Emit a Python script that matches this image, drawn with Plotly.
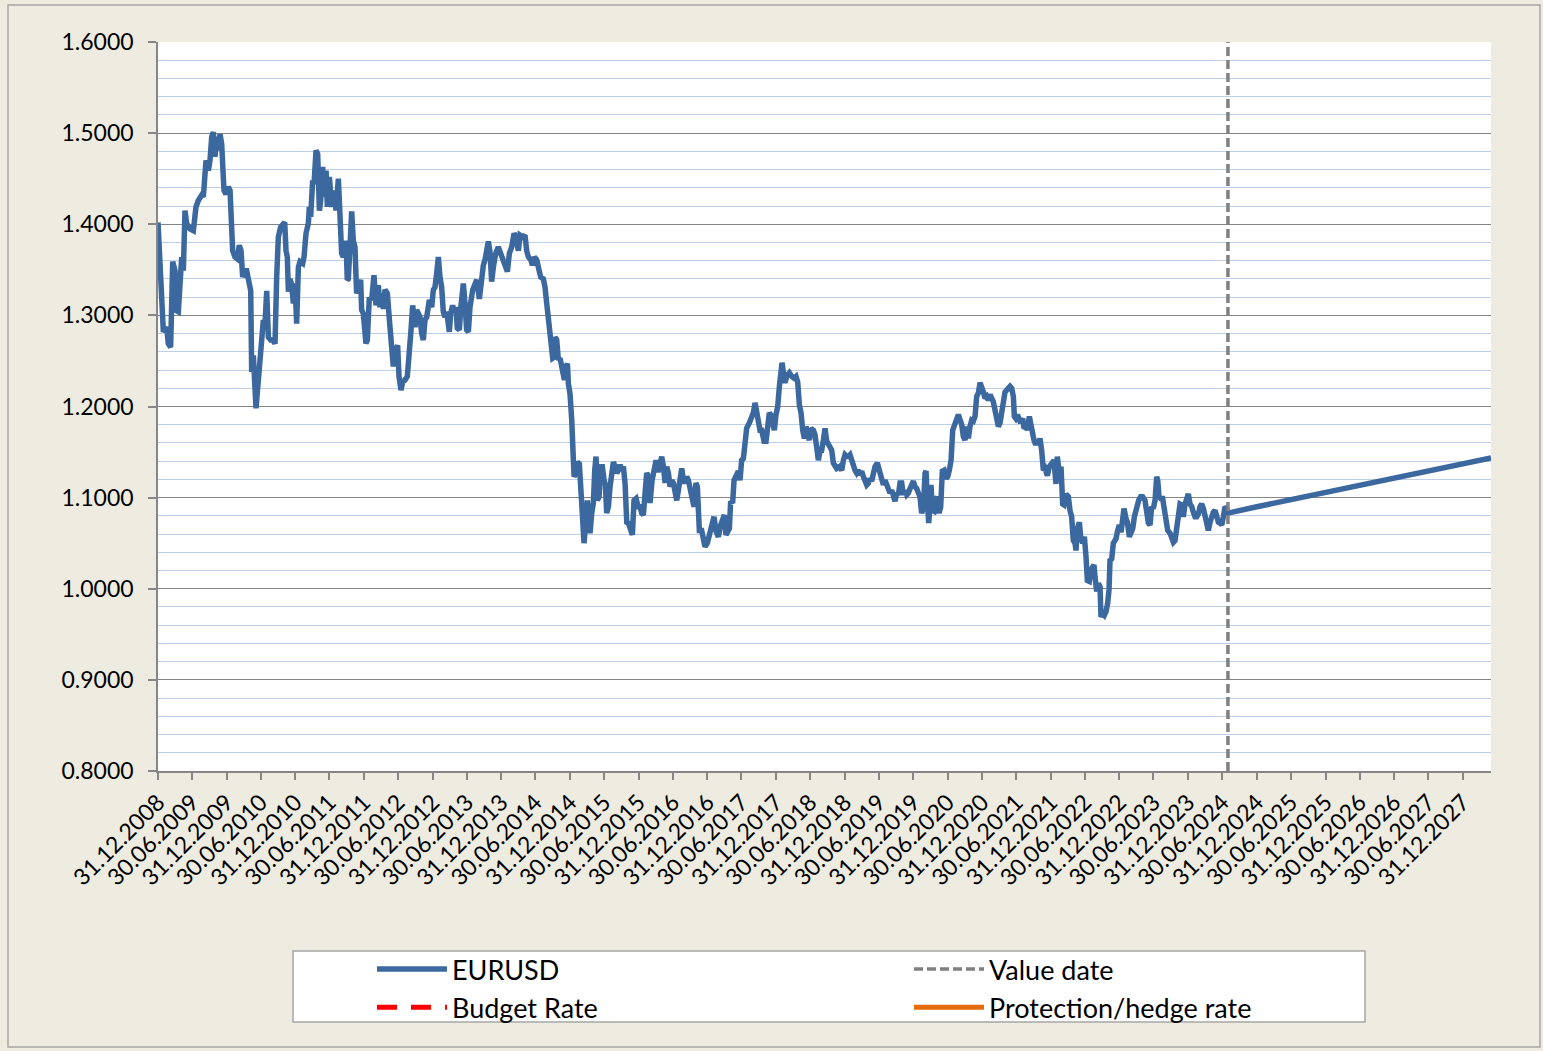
import pandas as pd
import plotly.graph_objects as go

# Time is in decimal years, where 2009.000 corresponds to 31.12.2008 (left end of the axis)
hist_t = [
    2009.000, 2009.053, 2009.078, 2009.126, 2009.150, 2009.184, 2009.214, 2009.248, 2009.272, 2009.296,
    2009.320, 2009.345, 2009.369, 2009.393, 2009.417, 2009.466, 2009.515, 2009.553, 2009.587, 2009.636,
    2009.660, 2009.699, 2009.733, 2009.757, 2009.782, 2009.806, 2009.830, 2009.854, 2009.879, 2009.903,
    2009.927, 2009.961, 2009.990, 2010.024, 2010.049, 2010.087, 2010.121, 2010.155, 2010.184, 2010.209,
    2010.233, 2010.267, 2010.291, 2010.316, 2010.350, 2010.364, 2010.388, 2010.427, 2010.447, 2010.476,
    2010.510, 2010.534, 2010.558, 2010.583, 2010.607, 2010.641, 2010.670, 2010.704, 2010.728, 2010.752,
    2010.786, 2010.816, 2010.845, 2010.864, 2010.883, 2010.898, 2010.922, 2010.947, 2010.971, 2010.995,
    2011.019, 2011.044, 2011.068, 2011.107, 2011.126, 2011.155, 2011.189, 2011.204, 2011.223, 2011.252,
    2011.272, 2011.301, 2011.325, 2011.350, 2011.369, 2011.398, 2011.417, 2011.447, 2011.466, 2011.495,
    2011.529, 2011.563, 2011.592, 2011.626,
    2011.674, 2011.698, 2011.737, 2011.756, 2011.771, 2011.795, 2011.820, 2011.844, 2011.868, 2011.892,
    2011.931, 2011.951, 2011.965, 2011.989, 2012.028, 2012.048, 2012.077, 2012.111, 2012.145, 2012.174,
    2012.208, 2012.232, 2012.256, 2012.281, 2012.305, 2012.339, 2012.378, 2012.402, 2012.426, 2012.460,
    2012.489, 2012.509, 2012.538, 2012.562, 2012.596, 2012.630, 2012.659, 2012.684, 2012.708, 2012.742,
    2012.766, 2012.790, 2012.815, 2012.839, 2012.863, 2012.887, 2012.912, 2012.951, 2012.985, 2013.009,
    2013.033, 2013.057, 2013.082, 2013.106, 2013.130, 2013.154, 2013.179, 2013.203, 2013.227, 2013.242,
    2013.261, 2013.290, 2013.310, 2013.339, 2013.358, 2013.388, 2013.407, 2013.446, 2013.470, 2013.494,
    2013.519, 2013.543, 2013.582, 2013.616, 2013.640, 2013.679, 2013.713, 2013.737, 2013.761, 2013.786,
    2013.810, 2013.834, 2013.858, 2013.883, 2013.917, 2013.955,
    2014.019, 2014.053, 2014.087, 2014.116, 2014.150, 2014.184, 2014.213, 2014.247, 2014.271, 2014.310,
    2014.344, 2014.368, 2014.393, 2014.427, 2014.451, 2014.480, 2014.514, 2014.553, 2014.572, 2014.611,
    2014.635, 2014.660, 2014.684, 2014.708, 2014.732, 2014.747, 2014.766, 2014.781, 2014.805, 2014.830,
    2014.854, 2014.878, 2014.902, 2014.917, 2014.941, 2014.961, 2014.975, 2014.999, 2015.024, 2015.048,
    2015.058, 2015.087, 2015.106, 2015.135, 2015.155, 2015.184, 2015.203, 2015.232, 2015.252, 2015.271,
    2015.291, 2015.315, 2015.339, 2015.359, 2015.378, 2015.397, 2015.422, 2015.446, 2015.470, 2015.495,
    2015.514, 2015.533, 2015.558, 2015.582, 2015.606, 2015.630, 2015.655, 2015.679, 2015.703, 2015.728,
    2015.752, 2015.776, 2015.800, 2015.825, 2015.849, 2015.883, 2015.907, 2015.931, 2015.961, 2015.990,
    2016.019, 2016.043, 2016.067, 2016.092, 2016.116, 2016.145, 2016.164, 2016.194, 2016.223, 2016.252,
    2016.281, 2016.310, 2016.334, 2016.359, 2016.383, 2016.407, 2016.431, 2016.456, 2016.480, 2016.504,
    2016.529, 2016.553, 2016.577, 2016.601, 2016.626, 2016.650, 2016.674, 2016.698, 2016.723,
    2016.804, 2016.833, 2016.853, 2016.882, 2016.916, 2016.940, 2016.964, 2016.998, 2017.028, 2017.062,
    2017.096, 2017.125, 2017.159, 2017.193, 2017.222, 2017.246, 2017.270, 2017.290, 2017.319, 2017.338,
    2017.367, 2017.387, 2017.416, 2017.450, 2017.474, 2017.498, 2017.523, 2017.547, 2017.571, 2017.610,
    2017.644, 2017.668, 2017.693, 2017.717, 2017.741, 2017.765, 2017.790, 2017.824, 2017.853, 2017.872,
    2017.901, 2017.921, 2017.950, 2017.974, 2017.998, 2018.023, 2018.047, 2018.066, 2018.086, 2018.105,
    2018.129, 2018.154, 2018.193, 2018.227, 2018.261, 2018.290, 2018.314, 2018.338, 2018.363, 2018.387,
    2018.411, 2018.435, 2018.460, 2018.484, 2018.508, 2018.542, 2018.566, 2018.591, 2018.615, 2018.639,
    2018.663, 2018.688, 2018.712, 2018.736, 2018.761, 2018.785, 2018.809, 2018.833, 2018.858, 2018.882,
    2018.921, 2018.955, 2018.979, 2019.003, 2019.028, 2019.052, 2019.076, 2019.100, 2019.124, 2019.149,
    2019.173, 2019.197, 2019.222, 2019.246, 2019.270, 2019.294, 2019.319, 2019.343,
    2019.367, 2019.391, 2019.416, 2019.440, 2019.474, 2019.503, 2019.537, 2019.561, 2019.585, 2019.610,
    2019.634, 2019.658, 2019.683, 2019.707, 2019.731, 2019.755, 2019.780, 2019.804, 2019.828, 2019.852,
    2019.877, 2019.901, 2019.925, 2019.950, 2019.974, 2019.998, 2020.022, 2020.047, 2020.071, 2020.095,
    2020.119, 2020.144, 2020.168, 2020.183, 2020.202, 2020.221, 2020.241, 2020.255, 2020.275, 2020.299,
    2020.323, 2020.348, 2020.372, 2020.396, 2020.420, 2020.445, 2020.474, 2020.498, 2020.522, 2020.547,
    2020.571, 2020.590, 2020.619, 2020.653, 2020.678, 2020.702, 2020.726, 2020.750, 2020.775, 2020.799,
    2020.823, 2020.848, 2020.872, 2020.896, 2020.920, 2020.945, 2020.969, 2020.993, 2021.017, 2021.042,
    2021.066, 2021.090, 2021.115, 2021.139, 2021.163, 2021.187, 2021.212, 2021.236, 2021.260, 2021.284,
    2021.309, 2021.333, 2021.357, 2021.381, 2021.406, 2021.430, 2021.454, 2021.469, 2021.488, 2021.513,
    2021.542, 2021.561, 2021.590, 2021.610, 2021.639, 2021.658, 2021.687, 2021.712, 2021.736, 2021.755,
    2021.780, 2021.804, 2021.828,
    2021.842, 2021.866, 2021.891, 2021.915, 2021.949, 2021.978, 2022.012, 2022.046, 2022.075, 2022.094,
    2022.124, 2022.148, 2022.172, 2022.192, 2022.221, 2022.255, 2022.279, 2022.303, 2022.327, 2022.352,
    2022.366, 2022.386, 2022.415, 2022.434, 2022.463, 2022.488, 2022.512, 2022.531, 2022.560, 2022.580,
    2022.609, 2022.628, 2022.643, 2022.667, 2022.692, 2022.716, 2022.730, 2022.755, 2022.779, 2022.803,
    2022.827, 2022.847, 2022.861, 2022.886, 2022.910, 2022.949, 2022.973, 2022.997, 2023.022, 2023.046,
    2023.065, 2023.094, 2023.114, 2023.143, 2023.162, 2023.192, 2023.216, 2023.250, 2023.279, 2023.308,
    2023.337, 2023.371, 2023.395, 2023.420, 2023.444, 2023.468, 2023.492, 2023.517, 2023.541, 2023.556,
    2023.575, 2023.599, 2023.628, 2023.653, 2023.677, 2023.701, 2023.735, 2023.759, 2023.784, 2023.808,
    2023.832, 2023.857, 2023.881, 2023.905, 2023.929, 2023.954, 2023.978, 2024.002, 2024.026, 2024.051,
    2024.075, 2024.099, 2024.124, 2024.148, 2024.172, 2024.196, 2024.221, 2024.245, 2024.269, 2024.293,
    2024.318, 2024.342, 2024.366, 2024.391, 2024.415, 2024.439, 2024.463, 2024.488, 2024.512, 2024.536,
    2024.561, 2024.580,
]

hist_v = [
    1.402, 1.295, 1.282, 1.287, 1.269, 1.265, 1.359, 1.349, 1.305, 1.304,
    1.327, 1.364, 1.349, 1.415, 1.401, 1.395, 1.393, 1.419, 1.426, 1.432,
    1.430, 1.470, 1.459, 1.470, 1.496, 1.501, 1.474, 1.496, 1.481, 1.499,
    1.488, 1.437, 1.433, 1.441, 1.437, 1.371, 1.364, 1.362, 1.377, 1.371,
    1.342, 1.349, 1.349, 1.338, 1.327, 1.238, 1.256, 1.198, 1.214, 1.240,
    1.269, 1.295, 1.291, 1.327, 1.276, 1.273, 1.273, 1.269, 1.342, 1.386,
    1.397, 1.399, 1.402, 1.371, 1.364, 1.326, 1.340, 1.333, 1.313, 1.335,
    1.291, 1.353, 1.359, 1.357, 1.364, 1.390, 1.401, 1.419, 1.408, 1.448,
    1.444, 1.481, 1.477, 1.415, 1.426, 1.463, 1.430, 1.459, 1.419, 1.452,
    1.419, 1.437, 1.415, 1.450,
    1.368, 1.364, 1.382, 1.339, 1.340, 1.375, 1.414, 1.382, 1.375, 1.324,
    1.339, 1.339, 1.306, 1.302, 1.269, 1.273, 1.320, 1.317, 1.344, 1.311,
    1.333, 1.309, 1.324, 1.307, 1.328, 1.324, 1.287, 1.251, 1.244, 1.262,
    1.267, 1.233, 1.218, 1.227, 1.229, 1.233, 1.254, 1.284, 1.311, 1.287,
    1.306, 1.302, 1.298, 1.280, 1.273, 1.295, 1.298, 1.317, 1.309, 1.328,
    1.331, 1.346, 1.364, 1.342, 1.331, 1.304, 1.298, 1.304, 1.287, 1.282,
    1.302, 1.311, 1.304, 1.309, 1.286, 1.284, 1.307, 1.335, 1.313, 1.284,
    1.282, 1.309, 1.328, 1.335, 1.339, 1.318, 1.351, 1.355, 1.361, 1.371,
    1.381, 1.370, 1.337, 1.353, 1.368, 1.375,
    1.361, 1.357, 1.348, 1.368, 1.375, 1.390, 1.386, 1.371, 1.388, 1.386,
    1.388, 1.371, 1.364, 1.361, 1.355, 1.364, 1.361, 1.348, 1.342, 1.340,
    1.331, 1.313, 1.295, 1.291, 1.273, 1.253, 1.254, 1.276, 1.273, 1.251,
    1.253, 1.244, 1.240, 1.229, 1.244, 1.247, 1.225, 1.214, 1.185, 1.148,
    1.123, 1.127, 1.139, 1.137, 1.119, 1.075, 1.050, 1.083, 1.097, 1.075,
    1.061, 1.083, 1.094, 1.130, 1.145, 1.097, 1.101, 1.134, 1.134, 1.119,
    1.114, 1.083, 1.090, 1.112, 1.123, 1.139, 1.134, 1.127, 1.130, 1.136,
    1.130, 1.134, 1.116, 1.073, 1.072, 1.063, 1.059, 1.097, 1.099, 1.090,
    1.090, 1.083, 1.081, 1.105, 1.127, 1.123, 1.094, 1.119, 1.134, 1.141,
    1.128, 1.139, 1.145, 1.134, 1.116, 1.134, 1.127, 1.112, 1.119, 1.116,
    1.105, 1.097, 1.108, 1.119, 1.132, 1.119, 1.116, 1.123, 1.119,
    1.090, 1.116, 1.112, 1.064, 1.064, 1.057, 1.046, 1.050, 1.061, 1.072,
    1.079, 1.063, 1.057, 1.070, 1.079, 1.081, 1.059, 1.061, 1.066, 1.096,
    1.094, 1.119, 1.123, 1.129, 1.119, 1.141, 1.143, 1.167, 1.176, 1.182,
    1.189, 1.193, 1.204, 1.195, 1.185, 1.174, 1.174, 1.162, 1.162, 1.174,
    1.193, 1.191, 1.176, 1.174, 1.191, 1.200, 1.222, 1.244, 1.248, 1.238,
    1.226, 1.233, 1.237, 1.233, 1.231, 1.233, 1.227, 1.202, 1.193, 1.174,
    1.165, 1.178, 1.165, 1.163, 1.176, 1.174, 1.169, 1.156, 1.141, 1.152,
    1.152, 1.163, 1.176, 1.162, 1.158, 1.156, 1.152, 1.138, 1.134, 1.132,
    1.134, 1.130, 1.141, 1.147, 1.145, 1.145, 1.147, 1.140, 1.134, 1.130,
    1.127, 1.130, 1.125, 1.129, 1.123, 1.119, 1.114, 1.116,
    1.121, 1.118, 1.127, 1.134, 1.138, 1.130, 1.123, 1.114, 1.119, 1.114,
    1.110, 1.105, 1.108, 1.099, 1.096, 1.105, 1.103, 1.116, 1.116, 1.103,
    1.108, 1.103, 1.105, 1.110, 1.116, 1.118, 1.112, 1.110, 1.105, 1.101,
    1.083, 1.088, 1.127, 1.129, 1.097, 1.072, 1.090, 1.114, 1.086, 1.085,
    1.097, 1.101, 1.083, 1.090, 1.129, 1.130, 1.121, 1.123, 1.130, 1.141,
    1.174, 1.180, 1.184, 1.191, 1.185, 1.180, 1.167, 1.163, 1.178, 1.165,
    1.178, 1.185, 1.184, 1.189, 1.211, 1.215, 1.226, 1.222, 1.216, 1.209,
    1.211, 1.207, 1.213, 1.209, 1.205, 1.196, 1.189, 1.178, 1.182, 1.195,
    1.211, 1.216, 1.218, 1.220, 1.222, 1.220, 1.211, 1.189, 1.187, 1.191,
    1.185, 1.182, 1.187, 1.176, 1.178, 1.174, 1.189, 1.178, 1.167, 1.163,
    1.158, 1.163, 1.160,
    1.165, 1.152, 1.130, 1.132, 1.124, 1.134, 1.139, 1.141, 1.115, 1.145,
    1.126, 1.134, 1.093, 1.092, 1.104, 1.101, 1.086, 1.079, 1.053, 1.050,
    1.042, 1.066, 1.073, 1.057, 1.050, 1.057, 1.035, 1.009, 1.008, 1.020,
    1.024, 1.026, 1.013, 0.997, 1.006, 1.002, 0.969, 0.973, 0.971, 0.975,
    0.984, 0.999, 1.031, 1.033, 1.050, 1.055, 1.064, 1.070, 1.062, 1.086,
    1.088, 1.077, 1.073, 1.057, 1.061, 1.066, 1.079, 1.090, 1.097, 1.101,
    1.101, 1.097, 1.077, 1.072, 1.070, 1.090, 1.088, 1.097, 1.123, 1.119,
    1.101, 1.099, 1.099, 1.086, 1.075, 1.064, 1.061, 1.055, 1.051, 1.053,
    1.064, 1.073, 1.093, 1.092, 1.079, 1.093, 1.101, 1.104, 1.093, 1.090,
    1.084, 1.079, 1.079, 1.082, 1.090, 1.093, 1.088, 1.079, 1.068, 1.064,
    1.073, 1.079, 1.084, 1.086, 1.077, 1.073, 1.072, 1.070, 1.079, 1.090,
    1.088, 1.083,
]

# Forward curve after the value date
fwd_t = [2025.000, 2026.000, 2027.000, 2028.000, 2028.409]
fwd_v = [1.090, 1.106, 1.122, 1.137, 1.1435]

value_date = "2024-07-30"
x_end = "2028-05-29"

tick_labels = [
    "31.12.2008", "30.06.2009", "31.12.2009", "30.06.2010", "31.12.2010", "30.06.2011",
    "31.12.2011", "30.06.2012", "31.12.2012", "30.06.2013", "31.12.2013", "30.06.2014",
    "31.12.2014", "30.06.2015", "31.12.2015", "30.06.2016", "31.12.2016", "30.06.2017",
    "31.12.2017", "30.06.2018", "31.12.2018", "30.06.2019", "31.12.2019", "30.06.2020",
    "31.12.2020", "30.06.2021", "31.12.2021", "30.06.2022", "31.12.2022", "30.06.2023",
    "31.12.2023", "30.06.2024", "31.12.2024", "30.06.2025", "31.12.2025", "30.06.2026",
    "31.12.2026", "30.06.2027", "31.12.2027",
]

series_names = ["EURUSD", "Value date", "Budget Rate", "Protection/hedge rate"]


def to_dates(ts):
    base = pd.Timestamp("2008-12-31")
    return [base + pd.Timedelta(days=(t - 2009.0) * 365.25) for t in ts]


tick_vals = [pd.Timestamp(f"{s[6:]}-{s[3:5]}-{s[0:2]}") for s in tick_labels]

FONT = "Lato"
BLUE = "#3C68A0"
GRID_MAJOR = "#868686"
GRID_MINOR = "#BDD0E8"

fig = go.Figure()
fig.add_trace(go.Scatter(
    x=to_dates(hist_t + fwd_t), y=hist_v + fwd_v, mode="lines", name=series_names[0],
    line=dict(color=BLUE, width=5.5), hoverinfo="skip",
))
fig.add_trace(go.Scatter(
    x=[value_date, value_date], y=[0.8, 1.6], mode="lines", name=series_names[1],
    line=dict(color="#808080", width=3.5, dash="9px,4px"),
))
fig.add_trace(go.Scatter(
    x=[None], y=[None], mode="lines", name=series_names[2],
    line=dict(color="#FF0000", width=5, dash="20px,14px"),
))
fig.add_trace(go.Scatter(
    x=[None], y=[None], mode="lines", name=series_names[3],
    line=dict(color="#E46C0A", width=5),
))

L, R, T, B = 158, 52, 42, 280
W, H = 1543, 1051
pw, ph = W - L - R, H - T - B


def px_x(x):
    return (x - L) / pw


def px_y(y):
    return (H - B - y) / ph


fig.update_layout(
    width=W, height=H,
    margin=dict(l=L, r=R, t=T, b=B, pad=0),
    paper_bgcolor="#EEECE1",
    plot_bgcolor="white",
    font=dict(family=FONT, size=23, color="black"),
    showlegend=True,
    legend=dict(
        orientation="h", x=px_x(372), y=px_y(945), xanchor="left", yanchor="top",
        entrywidth=452, entrywidthmode="pixels", itemwidth=70, bgcolor="rgba(0,0,0,0)",
        font=dict(family=FONT, size=27, color="black"), traceorder="normal",
    ),
    shapes=[
        dict(type="rect", xref="paper", yref="paper", x0=px_x(8), x1=px_x(1540),
             y0=px_y(1047), y1=px_y(5), line=dict(color="#A6A6A6", width=1.5), layer="below"),
        dict(type="rect", xref="paper", yref="paper", x0=px_x(293), x1=px_x(1365),
             y0=px_y(1022), y1=px_y(951), line=dict(color="#A6A6A6", width=1.5),
             fillcolor="white", layer="below"),
    ],
)

fig.update_xaxes(
    type="date", range=[pd.Timestamp("2008-12-31"), pd.Timestamp(x_end)],
    tickmode="array", tickvals=tick_vals, ticktext=tick_labels, tickangle=-45,
    showgrid=False, zeroline=False, showline=True, linecolor=GRID_MAJOR, linewidth=1.5,
    ticks="outside", ticklen=7, tickcolor=GRID_MAJOR, tickwidth=1.5,
    tickfont=dict(family=FONT, size=23, color="black"),
)
fig.update_yaxes(
    range=[0.8, 1.6], dtick=0.1, tick0=0.8, tickformat=".4f",
    showgrid=True, gridcolor=GRID_MAJOR, gridwidth=1.2, zeroline=False,
    showline=True, linecolor=GRID_MAJOR, linewidth=1.5,
    ticks="outside", ticklen=8, tickcolor=GRID_MAJOR, tickwidth=1.5, ticklabelstandoff=10,
    tickfont=dict(family=FONT, size=23, color="black"),
    minor=dict(dtick=0.02, showgrid=True, gridcolor=GRID_MINOR, gridwidth=1.2, ticks=""),
)

fig.write_html(
    "out.html",
    config={"displayModeBar": False},
    post_script="document.body.style.margin='0';document.body.style.overflow='hidden';",
)
